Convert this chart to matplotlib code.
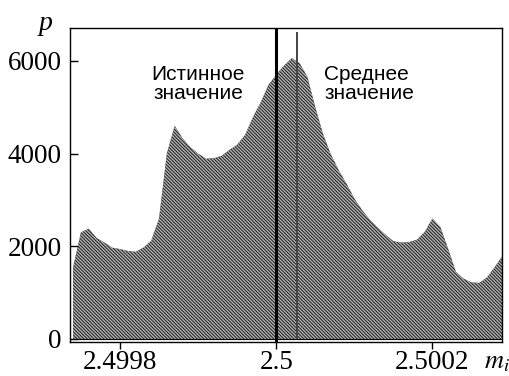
import matplotlib.pyplot as plt
import numpy as np

plt.rcParams["hatch.linewidth"] = 1.0

# ---------------------------------------------------------------------------
# Данные
# ---------------------------------------------------------------------------
m_start = 2.49974
m_step = 0.00001
p_counts = [
    1550, 2300, 2380, 2180, 2080, 1970, 1940, 1900, 1880, 1970,
    2120, 2600, 4000, 4600, 4330, 4140, 4000, 3890, 3900, 3950,
    4080, 4190, 4400, 4780, 5100, 5480, 5700, 5900, 6060, 5950,
    5650, 5000, 4420, 3980, 3640, 3350, 3030, 2780, 2570, 2400,
    2250, 2110, 2080, 2090, 2140, 2310, 2600, 2420, 1950, 1450,
    1300, 1220, 1210, 1330, 1560, 1800,
]
m_true = 2.5
m_mean = 2.500027
p_mean_top = 6620

x_ticks = [2.4998, 2.5, 2.5002]
x_ticklabels = ["2.4998", "2.5", "2.5002"]
y_ticks = [0, 2000, 4000, 6000]

m_vals = m_start + m_step * np.arange(len(p_counts))

# ---------------------------------------------------------------------------
# Рисунок
# ---------------------------------------------------------------------------
fig = plt.figure(figsize=(5.09, 3.76), dpi=100)
ax = fig.add_axes([0.1375, 0.0904, 0.8487, 0.8351])

ax.fill_between(m_vals, 0, p_counts, facecolor="#1e1e1e",
                edgecolor="#b0b0b0", hatch="\\" * 10, linewidth=0)
ax.axhline(0, color="black", lw=0.8)

ax.axvline(m_true, color="black", lw=2.2)
ax.vlines(m_mean, 0, p_mean_top, color="#444444", lw=1.4)

ax.set_xlim(2.499736, 2.500289)
ax.set_ylim(-65, 6710)

serif = "Liberation Serif"
ax.set_xticks(x_ticks)
ax.set_xticklabels(x_ticklabels, family=serif, fontsize=19.5)
ax.set_yticks(y_ticks)
ax.set_yticklabels([str(v) for v in y_ticks], family=serif, fontsize=19.5)
ax.tick_params(axis="x", direction="out", length=5, width=1, pad=1)
ax.tick_params(axis="y", direction="in", length=6, width=1, pad=6)
for s in ax.spines.values():
    s.set_linewidth(1.0)

sans = "Liberation Sans"
ax.text(2.4999, 5500, "Истинное\nзначение", ha="center", va="center",
        family=sans, fontsize=15, linespacing=1.05)
ax.text(2.5000615, 5500, "Среднее\nзначение", ha="left", va="center",
        family=sans, fontsize=15, linespacing=1.05)

fig.text(46 / 509, 1 - 24 / 376, "p", family=serif, style="italic",
         fontsize=20, ha="center", va="center")
fig.text(497 / 509, 1 - 361 / 376, "$m_i$", fontsize=19, ha="center",
         va="center", math_fontfamily="stix")

fig.savefig("out.png", dpi=100)
